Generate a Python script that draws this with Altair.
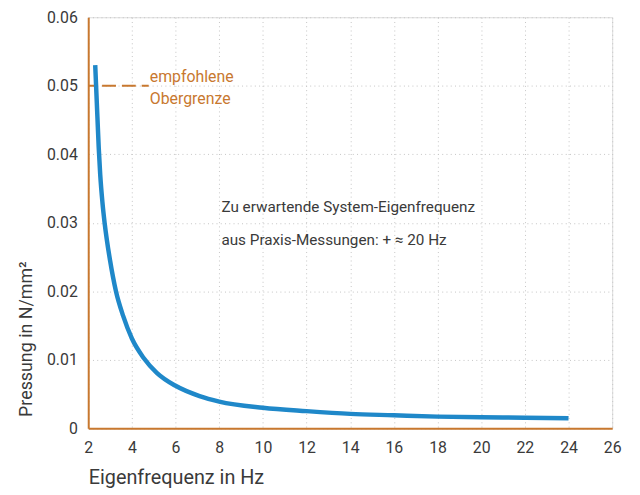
import altair as alt
import pandas as pd

freq = [2.32, 2.36, 2.42, 2.48, 2.55, 2.65, 2.75, 3.0, 3.27, 3.6, 4.0, 4.53, 5.14, 6.0, 7.1, 8.0,
        10, 12, 14, 16, 18, 20, 22, 24]
pressure = [0.053, 0.050, 0.0455, 0.041, 0.037, 0.033, 0.030, 0.0245, 0.020, 0.0164, 0.0131,
            0.0103, 0.0081, 0.0062, 0.0047, 0.0039, 0.0030, 0.0025, 0.0021, 0.0019, 0.0017,
            0.0016, 0.00155, 0.00145]

limit_x = [2.0, 4.77]
limit_y = [0.05, 0.05]
limit_label = ["empfohlene", "Obergrenze"]
limit_label_y = [0.0505, 0.0473]

note_lines = ["Zu erwartende System-Eigenfrequenz", "aus Praxis-Messungen: + \u2248 20 Hz"]
note_x = 8.1
note_y = [0.0323, 0.0275]

FONT = "Roboto"
ORANGE = "#c8782f"
BLUE = "#1f88c9"
TEXT = "#3a3a3a"

curve_df = pd.DataFrame({"f": freq, "p": pressure})
limit_df = pd.DataFrame({"f": limit_x, "p": limit_y})
lab_df = pd.DataFrame({"f": [limit_x[1] + 0.05] * 2, "p": limit_label_y, "t": limit_label})
note_df = pd.DataFrame({"f": [note_x] * 2, "p": note_y, "t": note_lines})

xscale = alt.Scale(domain=[2, 26], nice=False, zero=False)
yscale = alt.Scale(domain=[0, 0.06], nice=False)

xaxis = alt.Axis(values=list(range(2, 27, 2)), title="Eigenfrequenz in Hz",
                 titleX=0, titleY=56, titleAlign="left", titleBaseline="alphabetic",
                 titleFontSize=20, titleFontWeight="normal", titleColor=TEXT, titleFont=FONT,
                 labelFont=FONT, labelFontSize=16, labelColor=TEXT, labelFlush=False,
                 labelPadding=11, ticks=False, domainColor=ORANGE, domainWidth=2,
                 grid=True, gridColor="#c4c4c4", gridDash=[1, 3.3], gridWidth=1)
yaxis = alt.Axis(values=[0, 0.01, 0.02, 0.03, 0.04, 0.05, 0.06], title="Pressung in N/mm²",
                 titleX=-57, titleY=403, titleAngle=270, titleAlign="left",
                 titleBaseline="alphabetic", titleFontSize=18, titleFontWeight="normal",
                 titleColor=TEXT, titleFont=FONT, labelFont=FONT, labelFontSize=16,
                 labelColor=TEXT, labelPadding=11, ticks=False, labelFlush=False,
                 domainColor=ORANGE, domainWidth=2,
                 labelExpr="datum.value == 0 ? '0' : format(datum.value, '.2f')",
                 grid=True, gridColor="#c4c4c4", gridDash=[1, 3.3], gridWidth=1)

curve = alt.Chart(curve_df).mark_line(color=BLUE, strokeWidth=4.5, interpolate="monotone",
                                      strokeCap="butt").encode(
    x=alt.X("f:Q", scale=xscale, axis=xaxis),
    y=alt.Y("p:Q", scale=yscale, axis=yaxis),
)

limit = alt.Chart(limit_df).mark_line(color=ORANGE, strokeWidth=2, strokeDash=[14, 6],
                                      strokeDashOffset=6).encode(
    x=alt.X("f:Q", scale=xscale), y=alt.Y("p:Q", scale=yscale))

labels = alt.Chart(lab_df).mark_text(color=ORANGE, font=FONT, fontSize=16, align="left",
                                     baseline="alphabetic").encode(
    x=alt.X("f:Q", scale=xscale), y=alt.Y("p:Q", scale=yscale), text="t:N")

notes = alt.Chart(note_df).mark_text(color=TEXT, font=FONT, fontSize=15.4, align="left",
                                     baseline="middle").encode(
    x=alt.X("f:Q", scale=xscale), y=alt.Y("p:Q", scale=yscale), text="t:N")

chart = alt.layer(limit, curve, labels, notes).properties(
    width=529, height=415,
    autosize=alt.AutoSizeParams(type="none"),
    padding={"left": 81, "top": 7, "right": 20, "bottom": 60},
).configure_view(stroke=None).configure(background="white")

chart.save("out.html", embed_options={"renderer": "svg", "actions": False})
